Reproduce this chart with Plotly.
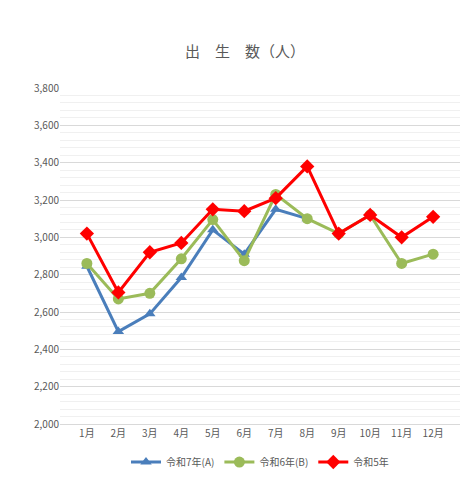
import plotly.graph_objects as go

months = ["1月", "2月", "3月", "4月", "5月", "6月", "7月", "8月", "9月", "10月", "11月", "12月"]
r7 = [2845, 2495, 2590, 2785, 3040, 2910, 3150, 3100]
r6 = [2860, 2670, 2700, 2885, 3095, 2875, 3230, 3100, 3020, 3120, 2860, 2910]
r5 = [3020, 2705, 2920, 2970, 3150, 3140, 3210, 3380, 3020, 3120, 3000, 3110]

fig = go.Figure()
fig.add_trace(go.Scatter(x=months[:len(r7)], y=r7, name="令和7年(A)", mode="lines+markers",
                         line=dict(color="#4a7ebb", width=3),
                         marker=dict(symbol="triangle-up", size=10, color="#4a7ebb")))
fig.add_trace(go.Scatter(x=months, y=r6, name="令和6年(B)", mode="lines+markers",
                         line=dict(color="#9bbb59", width=3),
                         marker=dict(symbol="circle", size=11, color="#9bbb59")))
fig.add_trace(go.Scatter(x=months, y=r5, name="令和5年", mode="lines+markers",
                         line=dict(color="#ff0000", width=3),
                         marker=dict(symbol="diamond", size=11, color="#ff0000")))

fig.update_layout(
    width=474, height=480, paper_bgcolor="white", plot_bgcolor="white",
    font=dict(family="Noto Sans CJK JP", color="#595959", size=10),
    title=dict(text="出　生　数（人）", x=0.5, y=0.92, xanchor="center",
               font=dict(size=15, color="#595959")),
    margin=dict(l=52, r=22, t=80, b=55),
    legend=dict(orientation="h", x=0.5, xanchor="center", y=-0.07, yanchor="top",
                font=dict(size=10)),
    xaxis=dict(showgrid=False, showline=True, linecolor="#d9d9d9", ticks=""),
    yaxis=dict(range=[2000, 3800], dtick=200, tickformat=",", gridcolor="#d9d9d9",
               minor=dict(dtick=40, showgrid=True, gridcolor="#f0f0f0"),
               zeroline=False),
)
fig.write_html("out.html")
